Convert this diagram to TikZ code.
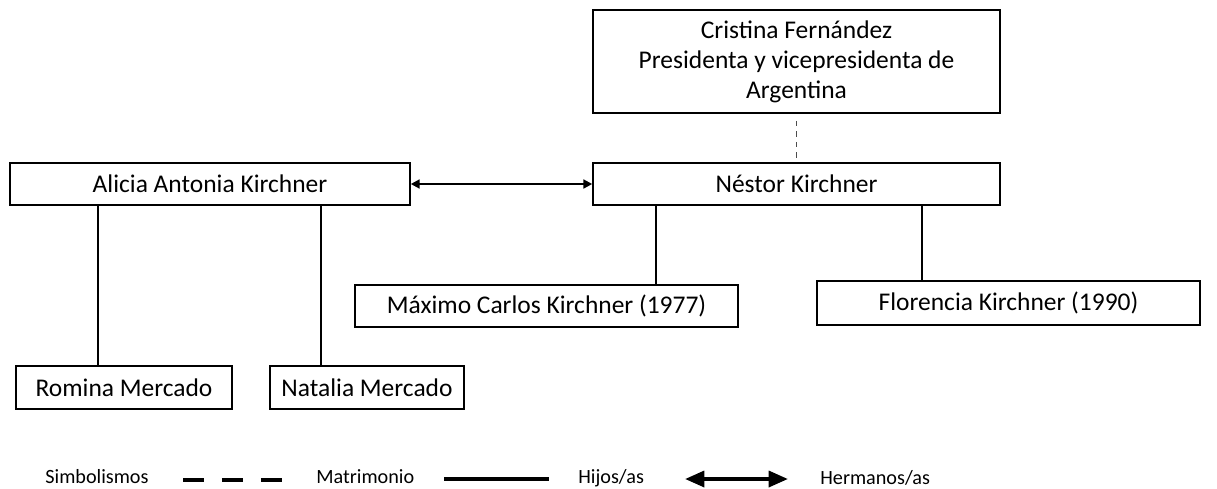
\documentclass[tikz,border=0pt]{standalone}
\usepackage{fontspec}
\setmainfont{Carlito}
\usetikzlibrary{arrows.meta}

\begin{document}
\begin{tikzpicture}[x=0.02cm, y=-0.02cm,
    persona/.style={draw, line width=0.9pt, minimum height=0.84cm, inner sep=0pt, font=\fontsize{14.5}{17}\selectfont},
    leyenda/.style={font=\fontsize{11.5}{14}\selectfont, anchor=base west, inner sep=0pt},
    hijo/.style={line width=1.1pt}]
    \useasboundingbox (0,0) rectangle (1217,488);
    % family nodes with absolute coordinates
    \node[persona, minimum width=8.14cm, minimum height=2.06cm, align=center] (cf) at (796.5,61.5)
        {Cristina Fernández\\Presidenta y vicepresidenta de\\Argentina};
    \node[persona, minimum width=8.14cm] (nk) at (796.5,184) {Néstor Kirchner};
    \node[persona, minimum width=8.0cm] (aak) at (210,184) {Alicia Antonia Kirchner};
    \node[persona, minimum width=7.66cm] (mck) at (546.5,306) {Máximo Carlos Kirchner (1977)};
    \node[persona, minimum width=7.66cm, minimum height=0.88cm] (fk) at (1008.5,303) {Florencia Kirchner (1990)};
    \node[persona, minimum width=4.32cm, minimum height=0.86cm] (rm) at (124,387.5) {Romina Mercado};
    \node[persona, minimum width=3.88cm, minimum height=0.86cm] (nm) at (367,387.5) {Natalia Mercado};
    \path[dashed, line width=0.6pt, black!70] (cf.south) ++(0,7) coordinate (cfd) (cfd) edge (nk.north);
    \path[{Triangle[length=5pt,width=5pt]}-{Triangle[length=5pt,width=5pt]}, line width=1.2pt] (aak) edge (nk);
    \path[hijo] (nk.south -| 656,0) edge (mck.north -| 656,0);
    \path[hijo] (nk.south -| 922,0) edge (fk.north -| 922,0);
    \path[hijo] (aak.south -| 98,0) edge (rm.north -| 98,0);
    \path[hijo] (aak.south -| 321,0) edge (nm.north -| 321,0);
    % legend
    \node[leyenda] (simb) at (45,483) {Simbolismos};
    \coordinate (d1) at (183,480);
    \coordinate (d2) at (282,480);
    \node[leyenda] (matr) at (316,483) {Matrimonio};
    \coordinate (s1) at (444,479);
    \coordinate (s2) at (549,479);
    \node[leyenda] (hijos) at (578,483) {Hijos/as};
    \coordinate (h1) at (685,479);
    \coordinate (h2) at (788,479);
    \node[leyenda] (herm) at (820,484) {Hermanos/as};
    \draw[line width=2.8pt, dash pattern=on 0.42cm off 0.36cm] (d1) -- (d2);
    \draw[line width=2.8pt] (s1) -- (s2);
    \draw[{Triangle[length=11pt,width=9pt]}-{Triangle[length=11pt,width=9pt]}, line width=2.2pt] (h1) -- (h2);
\end{tikzpicture}
\end{document}
